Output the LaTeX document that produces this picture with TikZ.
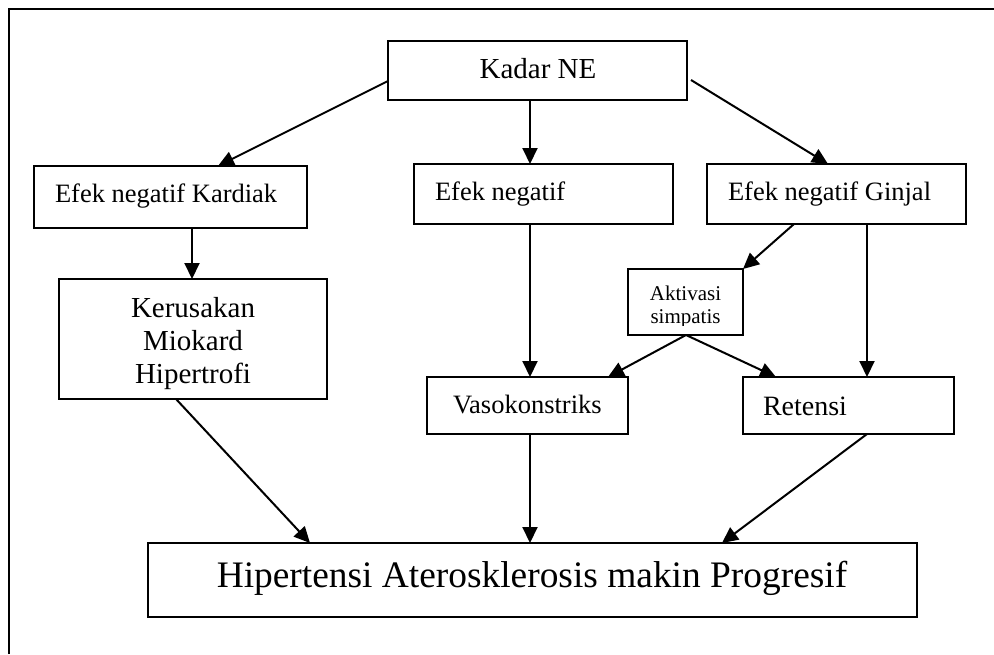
\documentclass[tikz,border=0pt]{standalone}
\usepackage{fontspec}
\setmainfont{Liberation Serif}
\usetikzlibrary{arrows.meta,calc}
\begin{document}
\begin{tikzpicture}[x=1pt,y=-1pt,
  box/.style={draw, line width=1.8pt, inner sep=0pt, outer sep=0pt, rectangle},
  lbl/.style={inner sep=0pt, outer sep=0pt},
  arr/.style={-{Triangle[length=16pt,width=15pt]}, line width=2pt},
  fmid/.style={font=\fontsize{26.5}{30}\selectfont},
  fbig/.style={font=\fontsize{29}{33}\selectfont},
  fsmall/.style={font=\fontsize{21}{23}\selectfont},
  fhuge/.style={font=\fontsize{37.4}{42}\selectfont}
]
\useasboundingbox (0,0) rectangle (994,654);
\draw[line width=1.3pt] (9,654) -- (9,9) -- (994,9);

% boxes
\node[box, minimum width=299pt, minimum height=59pt] (kadar) at (537.5,70.5) {};
\node[box, minimum width=273pt, minimum height=62pt] (kardiak) at (170.5,197) {};
\node[box, minimum width=259pt, minimum height=60pt] (efekneg) at (543.5,194) {};
\node[box, minimum width=259pt, minimum height=60pt] (ginjal) at (836.5,194) {};
\node[box, minimum width=268pt, minimum height=120pt] (kerusakan) at (193,339) {};
\node[box, minimum width=115pt, minimum height=66pt] (aktivasi) at (685.5,302) {};
\node[box, minimum width=201pt, minimum height=57pt] (vaso) at (527.5,405.5) {};
\node[box, minimum width=211pt, minimum height=57pt] (retensi) at (848.5,405.5) {};
\node[box, minimum width=769pt, minimum height=74pt] (hiper) at (532.5,580) {};

% texts
\node[lbl, fbig, anchor=base] (kadarT) at (538,78) {Kadar NE};
\node[lbl, fmid, anchor=base west] (kardiakT) at (55,202) {Efek negatif Kardiak};
\node[lbl, fmid, anchor=base west] (efeknegT) at (435,200) {Efek negatif};
\node[lbl, fmid, anchor=base west] (ginjalT) at (728,200) {Efek negatif Ginjal};
\node[lbl, fbig, anchor=base] (kerusakanT1) at (193,317) {Kerusakan};
\node[lbl, fbig, anchor=base] (kerusakanT2) at (193,350) {Miokard};
\node[lbl, fbig, anchor=base] (kerusakanT3) at (193,383) {Hipertrofi};
\begin{scope}
\clip (628,269) rectangle (743,325);
\node[lbl, fsmall, anchor=base] (aktivasiT1) at (685.5,300) {Aktivasi};
\node[lbl, fsmall, anchor=base] (aktivasiT2) at (685.5,323) {simpatis};
\end{scope}
\node[lbl, fmid, anchor=base west] (vasoT) at (453,413) {Vasokonstriks};
\node[lbl, font=\fontsize{28}{32}\selectfont, anchor=base west] (retensiT) at (763,415) {Retensi};
\node[lbl, fhuge, anchor=base] (hiperT) at (532,587) {Hipertensi Aterosklerosis makin Progresif};

% connectors
\draw[arr] ($(kadar.north west)+(0,40)$) -- ($(kardiak.north west)+(184,0)$);
\draw[arr] ($(kadar.south west)+(142,0)$) -- ($(efekneg.north west)+(116,0)$);
\draw[arr] ($(kadar.north east)+(4,39)$) -- ($(ginjal.north west)+(121,0)$);
\draw[arr] ($(kardiak.south west)+(158,0)$) -- ($(kerusakan.north west)+(133,0)$);
\draw[arr] ($(efekneg.south west)+(116,0)$) -- ($(vaso.north west)+(103,0)$);
\draw[arr] ($(ginjal.south west)+(87,0)$) -- (aktivasi.north east);
\draw[arr] ($(ginjal.south west)+(160,0)$) -- ($(retensi.north west)+(124,0)$);
\draw[arr] ($(aktivasi.south west)+(58,0)$) -- ($(vaso.north west)+(181,0)$);
\draw[arr] ($(aktivasi.south west)+(58,0)$) -- ($(retensi.north west)+(33,0)$);
\draw[arr] ($(kerusakan.south west)+(117,0)$) -- ($(hiper.north west)+(162,0)$);
\draw[arr] ($(vaso.south west)+(103,0)$) -- ($(hiper.north west)+(382,0)$);
\draw[arr] ($(retensi.south west)+(124,0)$) -- ($(hiper.north west)+(574,0)$);
\end{tikzpicture}
\end{document}
